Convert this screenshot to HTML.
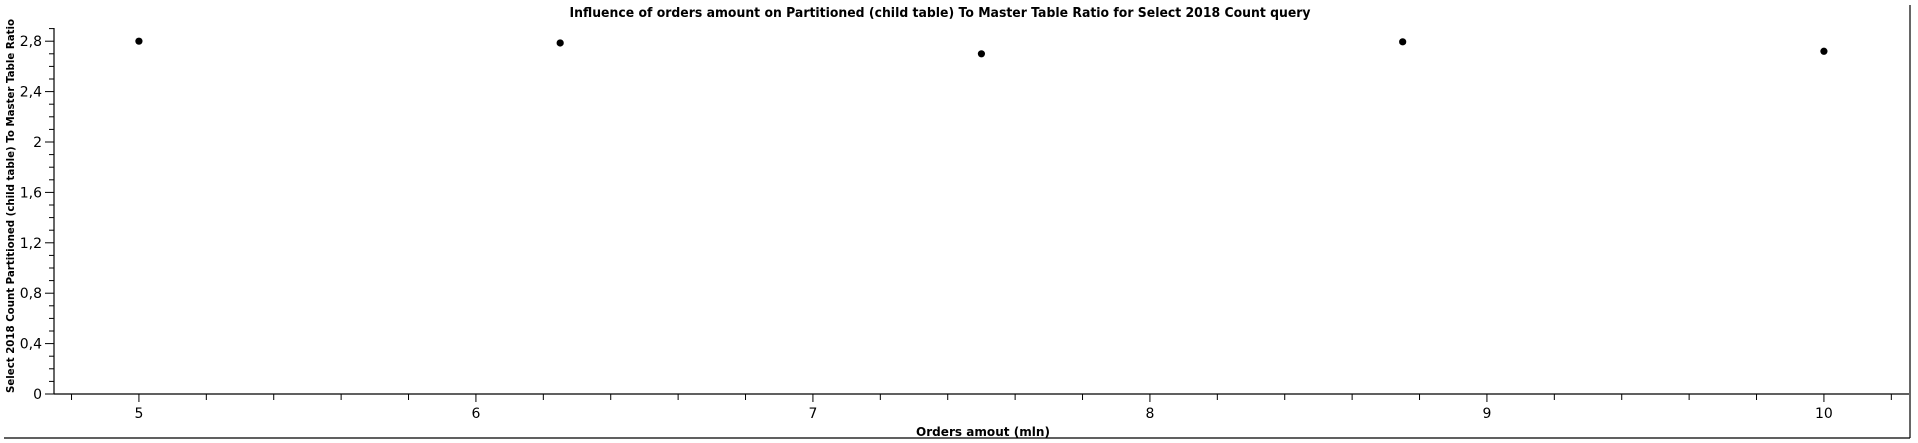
<!DOCTYPE html>
<html><head><meta charset="utf-8">
<style>
html,body{margin:0;padding:0;background:#fff;}
svg{display:block;font-family:"DejaVu Sans","Liberation Sans",sans-serif;}
</style></head>
<body>
<svg id="chart" width="1918" height="443" viewBox="0 0 1918 443" xmlns="http://www.w3.org/2000/svg">
<text x="940" y="17" text-anchor="middle" font-size="13" font-weight="bold" textLength="741" lengthAdjust="spacingAndGlyphs">Influence of orders amount on Partitioned (child table) To Master Table Ratio for Select 2018 Count query</text>
<text transform="translate(14,206) rotate(-90)" text-anchor="middle" font-size="11" font-weight="bold" textLength="374" lengthAdjust="spacingAndGlyphs">Select 2018 Count Partitioned (child table) To Master Table Ratio</text>
<text x="983" y="436" text-anchor="middle" font-size="12" font-weight="bold" textLength="134" lengthAdjust="spacingAndGlyphs">Orders amout (mln)</text>
<line x1="1910" y1="5" x2="1910" y2="438" stroke="#000" stroke-width="1.2"/>
<line x1="4" y1="438" x2="1910" y2="438" stroke="#000" stroke-width="1.2"/>
<g id="axes"></g>
<g id="points"></g>
</svg>
<script>
const xValues = [5, 6.25, 7.5, 8.75, 10];
const yValues = [2.80, 2.786, 2.70, 2.795, 2.72];
const xTicks = [5, 6, 7, 8, 9, 10];
const yTicks = [0, 0.4, 0.8, 1.2, 1.6, 2, 2.4, 2.8];
const yTickLabels = ["0", "0,4", "0,8", "1,2", "1,6", "2", "2,4", "2,8"];

const X0 = 54, X1 = 1909, Y0 = 394, YTOP = 28;
const xMin = 4.748, xPer = 337;
const yPer = 126;
function sx(v){ return X0 + (v - xMin) * xPer; }
function sy(v){ return Y0 - v * yPer; }
const NS = "http://www.w3.org/2000/svg";
const axes = document.getElementById('axes');
const pts = document.getElementById('points');
function mk(tag, attrs, parent){ const e = document.createElementNS(NS, tag); for (const k in attrs) e.setAttribute(k, attrs[k]); parent.appendChild(e); return e; }

let l = mk('line', {x1:X0, y1:YTOP, x2:X0, y2:Y0, stroke:'#000', 'stroke-width':1.2}, axes);


l = mk('line', {x1:X0, y1:Y0, x2:X1, y2:Y0, stroke:'#000', 'stroke-width':1.2}, axes);



for (let i = 0; i <= 29; i++) {
  const v = i / 10;
  const y = sy(v);
  if (y < YTOP) break;
  const major = i % 4 === 0;
  const t = mk('line', {x1: major ? 45 : 49, y1:y, x2:X0, y2:y, stroke:'#000', 'stroke-width':1}, axes);
  
  
}
yTicks.forEach((v, i) => {
  const t = mk('text', {x:42, y:sy(v) + 5, 'text-anchor':'end', 'font-size':14}, axes);
  t.textContent = yTickLabels[i];
  
  
});
for (let i = 0; ; i++) {
  const v = 4.8 + i * 0.2;
  const x = sx(v);
  if (x > X1) break;
  const major = Math.abs(v - Math.round(v)) < 1e-6;
  const t = mk('line', {x1:x, y1:Y0, x2:x, y2:Y0 + (major ? 8 : 6), stroke:'#000', 'stroke-width':1}, axes);
  
  
}
xTicks.forEach(v => {
  const t = mk('text', {x:sx(v), y:418, 'text-anchor':'middle', 'font-size':14}, axes);
  t.textContent = String(v);
  
  
});
xValues.forEach((xv, i) => {
  const c = mk('circle', {cx:sx(xv), cy:sy(yValues[i]), r:3.6, fill:'#000'}, pts);
  
  
});
</script>
</body></html>
